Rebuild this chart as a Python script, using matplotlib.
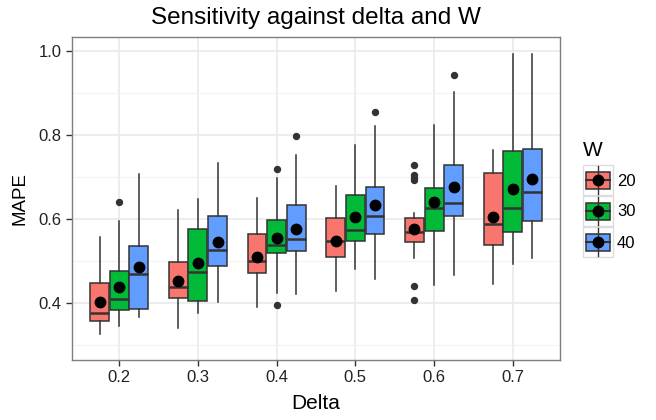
import matplotlib
matplotlib.use("Agg")
import matplotlib.pyplot as plt
from matplotlib.patches import Rectangle
from matplotlib.lines import Line2D

plt.rcParams['font.family'] = ['Liberation Sans', 'DejaVu Sans']

deltas = ["0.2", "0.3", "0.4", "0.5", "0.6", "0.7"]
w_levels = ["20", "30", "40"]
colors = ["#F8766D", "#00BA38", "#619CFF"]

# per W level, per delta
whislo = {
    "20": [0.326, 0.341, 0.389, 0.429, 0.506, 0.445],
    "30": [0.345, 0.375, 0.423, 0.480, 0.442, 0.493],
    "40": [0.366, 0.401, 0.420, 0.458, 0.467, 0.508],
}
q1 = {
    "20": [0.358, 0.412, 0.471, 0.509, 0.544, 0.537],
    "30": [0.383, 0.405, 0.519, 0.547, 0.572, 0.569],
    "40": [0.386, 0.487, 0.523, 0.564, 0.607, 0.594],
}
med = {
    "20": [0.375, 0.437, 0.499, 0.547, 0.568, 0.587],
    "30": [0.409, 0.474, 0.537, 0.574, 0.625, 0.625],
    "40": [0.468, 0.525, 0.552, 0.606, 0.638, 0.663],
}
q3 = {
    "20": [0.447, 0.498, 0.564, 0.601, 0.601, 0.709],
    "30": [0.475, 0.576, 0.598, 0.658, 0.674, 0.762],
    "40": [0.535, 0.608, 0.633, 0.677, 0.728, 0.766],
}
whishi = {
    "20": [0.558, 0.621, 0.649, 0.679, 0.615, 0.763],
    "30": [0.596, 0.647, 0.697, 0.775, 0.823, 0.993],
    "40": [0.706, 0.732, 0.753, 0.820, 0.902, 0.993],
}
means = {
    "20": [0.401, 0.453, 0.510, 0.548, 0.576, 0.605],
    "30": [0.438, 0.494, 0.555, 0.605, 0.640, 0.671],
    "40": [0.485, 0.545, 0.576, 0.633, 0.677, 0.696],
}
outliers = {
    "20": [[], [], [], [], [0.728, 0.705, 0.698, 0.693, 0.440, 0.406], []],
    "30": [[0.640], [], [0.718, 0.396], [], [], []],
    "40": [[], [], [0.797], [0.854], [0.943], []],
}

fig = plt.figure(figsize=(6.56, 4.2), dpi=100)
ax = fig.add_axes([72/656, 1-360/420, (560-72)/656, (360-37)/420])

edge = "#333333"
offsets = [-0.25, 0.0, 0.25]
for k, w in enumerate(w_levels):
    stats = []
    for i in range(len(deltas)):
        stats.append(dict(whislo=whislo[w][i], q1=q1[w][i], med=med[w][i],
                          q3=q3[w][i], whishi=whishi[w][i], fliers=outliers[w][i]))
    pos = [i + 1 + offsets[k] for i in range(len(deltas))]
    ax.bxp(stats, positions=pos, widths=0.24, patch_artist=True, showcaps=False,
           boxprops=dict(facecolor=colors[k], edgecolor=edge, linewidth=1.1),
           medianprops=dict(color=edge, linewidth=1.8),
           whiskerprops=dict(color=edge, linewidth=1.1),
           flierprops=dict(marker='o', markerfacecolor=edge, markeredgecolor=edge,
                           markersize=4.3, linestyle='none'),
           manage_ticks=False, zorder=3)
    ax.plot(pos, means[w], 'o', color='black', markersize=7.5, zorder=5)

ax.set_xlim(0.4, 6.6)
ax.set_ylim(0.264, 1.033)
ax.set_xticks(range(1, 7))
ax.set_xticklabels(deltas)
ax.set_yticks([0.4, 0.6, 0.8, 1.0])
ax.set_yticklabels(["0.4", "0.6", "0.8", "1.0"])
ax.set_yticks([0.3, 0.5, 0.7, 0.9], minor=True)
ax.grid(True, which='major', color='#e8e8e8', linewidth=1.1, zorder=0)
ax.grid(True, which='minor', axis='y', color='#f3f3f3', linewidth=0.8, zorder=0)
ax.set_axisbelow(True)
ax.tick_params(axis='both', which='major', labelsize=12, colors='#333333',
               length=4, width=1, labelcolor='#222222')
ax.tick_params(axis='y', which='minor', length=0)
for s in ax.spines.values():
    s.set_color('#7f7f7f')
    s.set_linewidth(1.0)
ax.set_xlabel("Delta", fontsize=15, labelpad=6)
ax.set_ylabel("MAPE", fontsize=13.5, labelpad=7)
ax.set_title("Sensitivity against delta and W", fontsize=17.5, pad=9)

# legend drawn in pixel coordinates
lax = fig.add_axes([0, 0, 1, 1])
lax.set_xlim(0, 656)
lax.set_ylim(420, 0)
lax.axis('off')
lax.text(583, 150, "W", fontsize=15, va='center', ha='left')
key_tops = [165, 196, 227]
for k, w in enumerate(w_levels):
    t = key_tops[k]
    lax.add_patch(Rectangle((583, t), 30, 30, facecolor='white', edgecolor='#dddddd', linewidth=1))
    lax.add_line(Line2D([598, 598], [t + 1, t + 29], color=edge, linewidth=1))
    lax.add_patch(Rectangle((586, t + 6.5), 24, 17, facecolor=colors[k], edgecolor=edge, linewidth=1.1))
    lax.add_line(Line2D([586, 610], [t + 15, t + 15], color=edge, linewidth=1.5))
    lax.plot([598], [t + 15], 'o', color='black', markersize=7.5)
    lax.text(617, t + 16, w, fontsize=12, va='center', ha='left')

fig.savefig("out.png", dpi=100)
